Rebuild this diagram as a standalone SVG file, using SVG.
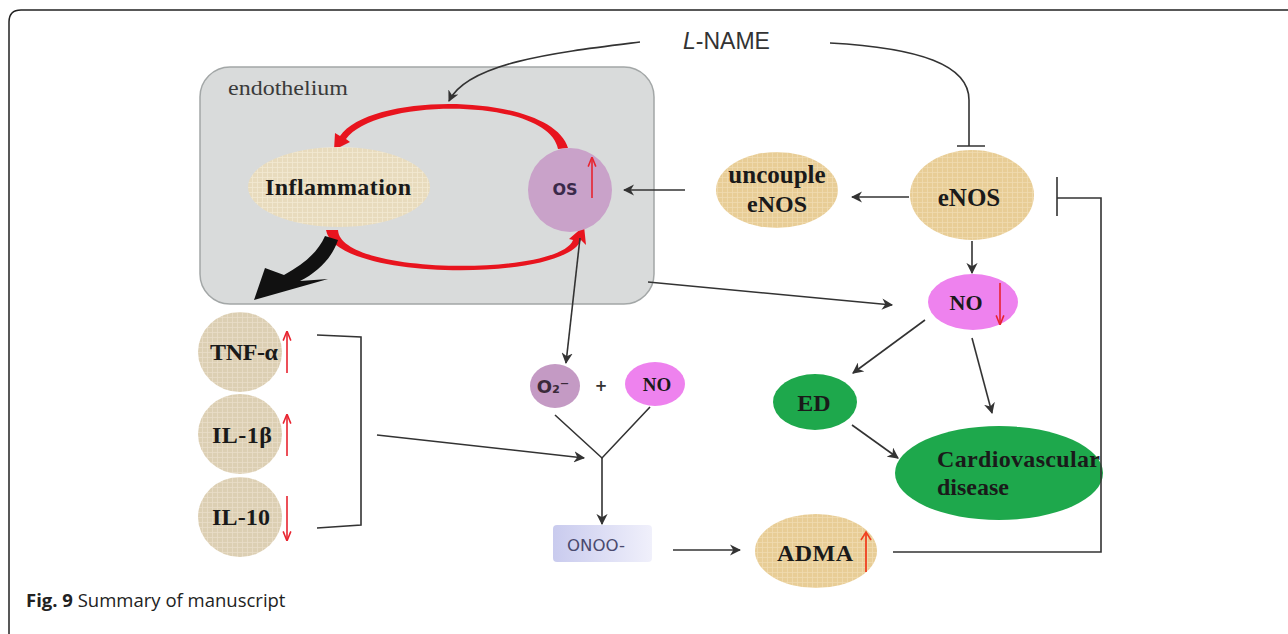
<svg xmlns="http://www.w3.org/2000/svg" width="1288" height="634" viewBox="0 0 1288 634">
<style>
.b{font-family:"Liberation Serif",serif;font-weight:bold;fill:#1a1a1a;text-anchor:middle}
.bs{font-family:"Liberation Serif",serif;font-weight:bold;fill:#1a1a1a;text-anchor:start}
.ln{fill:none;stroke:#333;stroke-width:1.6}
.ar{marker-end:url(#ah)}
.red{fill:none;stroke:#e8232f;stroke-width:1.6;marker-end:url(#rh)}
</style>
<defs>
<marker id="ah" viewBox="0 0 10 10" refX="9" refY="5" markerWidth="7" markerHeight="7" orient="auto"><path d="M0,0L10,5L0,10L3,5z" fill="#333"/></marker>
<marker id="rh" viewBox="0 0 10 10" refX="9" refY="5" markerWidth="6" markerHeight="6" orient="auto"><path d="M0,1L10,5L0,9" fill="none" stroke="#e8232f" stroke-width="1.6"/></marker>
<pattern id="pTan" width="5" height="5" patternUnits="userSpaceOnUse"><rect width="5" height="5" fill="#e8cd96"/><path d="M0,2.5H5M2.5,0V5" stroke="#f0dbb0" stroke-width="0.8"/></pattern>
<pattern id="pBeige" width="5" height="5" patternUnits="userSpaceOnUse"><rect width="5" height="5" fill="#e8dbbd"/><path d="M0,2.5H5M2.5,0V5" stroke="#f2e8d2" stroke-width="0.8"/></pattern>
<pattern id="pCyt" width="5" height="5" patternUnits="userSpaceOnUse"><rect width="5" height="5" fill="#dccfb3"/><path d="M0,2.5H5M2.5,0V5" stroke="#e8ddc8" stroke-width="0.8"/></pattern>
<linearGradient id="gOn" x1="0" y1="0" x2="1" y2="0"><stop offset="0" stop-color="#c9cbee"/><stop offset="1" stop-color="#f0f0fb"/></linearGradient>
</defs>
<rect width="1288" height="634" fill="#fff"/>
<path d="M9,634V22Q9,10 21,10H1288" fill="none" stroke="#222" stroke-width="1.5"/>

<g id="endothelium">
<rect x="200" y="67" width="454" height="237" rx="30" fill="#d9dbdb" stroke="#a3a7a7" stroke-width="1.5"/>
<text x="228" y="95" font-family="'Liberation Serif',serif" font-size="21" fill="#3a3a3a" textLength="120" lengthAdjust="spacingAndGlyphs">endothelium</text>
</g>

<g id="cycle">
<path d="M568,148C552,93 372,90 340,136L335,133L334,150L350,142L346,139C376,97 548,97 558,149Z" fill="#e8141e"/>
<path d="M326,230C335,282 565,282 581,240L586,245L584,226L569,239L573,240C560,276 340,276 338,230Z" fill="#e8141e"/>
<path d="M325,236L338,240C332,258 318,272 300,281L328,279L254,300L265,268L284,275C304,264 318,252 325,236Z" fill="#111"/>
</g>

<g id="inflammation">
<ellipse cx="339" cy="187" rx="91" ry="40" fill="url(#pBeige)"/>
<text class="b" x="338" y="195" font-size="24" textLength="146">Inflammation</text>
</g>

<g id="os">
<circle cx="570" cy="190" r="42" fill="#c9a2c9"/>
<text x="565" y="195" font-family="'DejaVu Sans',sans-serif" font-weight="bold" font-size="16" fill="#3a2a4a" text-anchor="middle">OS</text>
<path class="red" d="M592,198V158"/>
</g>

<g id="lname">
<text x="683" y="49" font-family="'Liberation Sans',Arial,sans-serif" font-size="23" fill="#333"><tspan font-style="italic">L</tspan>-NAME</text>
</g>

<g id="uncouple">
<ellipse cx="777" cy="190" rx="61" ry="38" fill="url(#pTan)"/>
<text class="b" x="777" y="183" font-size="25">uncouple</text>
<text class="b" x="777" y="212" font-size="24">eNOS</text>
</g>

<g id="enos">
<ellipse cx="972" cy="195" rx="62" ry="45" fill="url(#pTan)"/>
<text class="b" x="969" y="206" font-size="25">eNOS</text>
</g>

<g id="no">
<ellipse cx="973" cy="302" rx="45" ry="28" fill="#ee82ee"/>
<text class="b" x="966" y="310" font-size="22" fill="#3a1a3a">NO</text>
<path class="red" d="M1000,283V324"/>
</g>

<g id="ed">
<ellipse cx="815" cy="402" rx="42" ry="28" fill="#1ea84c"/>
<text class="b" x="814" y="411" font-size="24">ED</text>
</g>

<g id="cvd">
<ellipse cx="999" cy="473" rx="104" ry="47" fill="#1ea84c"/>
<text class="bs" x="937" y="467" font-size="24" textLength="163">Cardiovascular</text>
<text class="bs" x="937" y="495" font-size="24">disease</text>
</g>

<g id="adma">
<ellipse cx="816" cy="551" rx="61" ry="37" fill="url(#pTan)"/>
<text class="b" x="815" y="561" font-size="24" textLength="76">ADMA</text>
<path d="M866,572V533" fill="none" stroke="#f04020" stroke-width="1.8"/>
<path d="M861,540L866,532L871,540" fill="none" stroke="#f04020" stroke-width="1.6"/>
</g>

<g id="tnf">
<ellipse cx="240" cy="352" rx="42" ry="40" fill="url(#pCyt)"/>
<text class="b" x="244" y="360" font-size="24" textLength="68">TNF-α</text>
<path class="red" d="M287,373V332"/>
</g>
<g id="il1b">
<ellipse cx="240" cy="434" rx="42" ry="40" fill="url(#pCyt)"/>
<text class="b" x="242" y="443" font-size="24" textLength="60">IL-1β</text>
<path class="red" d="M287,456V415"/>
</g>
<g id="il10">
<ellipse cx="240" cy="517" rx="42" ry="40" fill="url(#pCyt)"/>
<text class="b" x="241" y="525" font-size="24" textLength="58">IL-10</text>
<path class="red" d="M287,496V540"/>
</g>

<g id="o2">
<ellipse cx="555" cy="386" rx="25" ry="22" fill="#c49ac4"/>
<text x="553" y="393" font-family="'DejaVu Sans',sans-serif" font-weight="bold" font-size="18" fill="#3a2a3a" text-anchor="middle">O₂⁻</text>
</g>
<g id="plus"><text x="601" y="391" font-family="'DejaVu Sans',sans-serif" font-weight="bold" font-size="15" fill="#333" text-anchor="middle">+</text></g>
<g id="no2">
<ellipse cx="655" cy="384" rx="30" ry="22" fill="#ee82ee"/>
<text class="b" x="657" y="391" font-size="19" fill="#3a1a3a">NO</text>
</g>

<g id="onoo">
<rect x="553" y="525" width="99" height="37" rx="4" fill="url(#gOn)"/>
<text x="567" y="551" font-family="'DejaVu Sans',sans-serif" font-size="16" fill="#4a4a6e" textLength="58" lengthAdjust="spacingAndGlyphs">ONOO-</text>
</g>

<g id="connectors">
<path class="ln ar" d="M640,42C560,52 468,62 449,101"/>
<path class="ln" d="M830,43C920,48 969,65 969,100V146M957,146H985"/>
<path class="ln ar" d="M685,190H624"/>
<path class="ln ar" d="M909,197H852"/>
<path class="ln ar" d="M972,241V273"/>
<path class="ln ar" d="M648,282L892,305"/>
<path class="ln ar" d="M580,238L566,363"/>
<path class="ln ar" d="M925,320L853,373"/>
<path class="ln ar" d="M972,338L992,413"/>
<path class="ln ar" d="M852,425L898,458"/>
<path class="ln" d="M317,335L361,337V525L317,528"/>
<path class="ln ar" d="M377,435L584,458"/>
<path class="ln" d="M555,415L602,458L650,407"/>
<path class="ln ar" d="M602,458V524"/>
<path class="ln ar" d="M673,550H740"/>
<path class="ln" d="M893,552H1101V198H1057M1057,177V216" stroke-width="2"/>
</g>

<g id="caption">
<text x="26" y="607" font-family="'Open Sans',sans-serif" font-size="18.5" fill="#222"><tspan font-weight="bold">Fig. 9</tspan> Summary of manuscript</text>
</g>
</svg>
